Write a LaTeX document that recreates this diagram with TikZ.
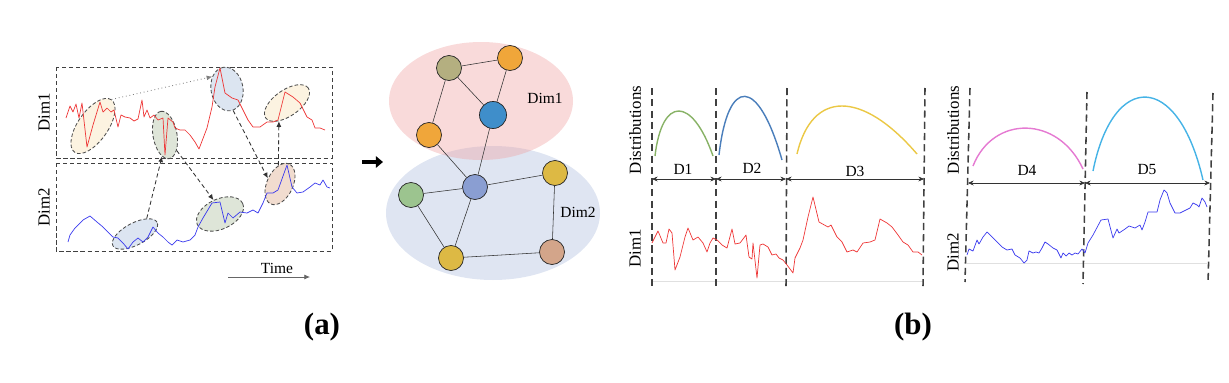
\documentclass[tikz,border=0pt]{standalone}
\usepackage{fontspec}
\setmainfont{Liberation Serif}
\usetikzlibrary{arrows.meta,positioning,shapes.geometric}

\newcommand\pxu{0.025cm}
\definecolor{serred}{HTML}{EE3636}
\definecolor{serblue}{HTML}{3A3AEE}
\definecolor{creamfill}{HTML}{FCF3E1}
\definecolor{sagefill}{HTML}{DEE5D8}
\definecolor{skyfill}{HTML}{DCE5F1}
\definecolor{peachfill}{HTML}{F1DCCF}
\definecolor{dimonefill}{HTML}{EFA3A3}
\definecolor{dimtwofill}{HTML}{DFE5F2}
\definecolor{olivenode}{HTML}{B4AF80}
\definecolor{orangenode}{HTML}{F0A63A}
\definecolor{bluenode}{HTML}{3F8ECA}
\definecolor{lavnode}{HTML}{8A9ED2}
\definecolor{greennode}{HTML}{9CC48F}
\definecolor{yellownode}{HTML}{DDB944}
\definecolor{tannode}{HTML}{D3A58A}
\definecolor{dgreen}{HTML}{88B266}
\definecolor{dblue}{HTML}{4A7EBB}
\definecolor{dyellow}{HTML}{EBC845}
\definecolor{dpink}{HTML}{E57AD2}
\definecolor{dcyan}{HTML}{45B3E6}

\tikzset{
  win/.style={draw=black!75, dash pattern=on 3pt off 2pt, line width=0.6pt},
  blob/.style={ellipse, draw=black!70, dash pattern=on 2.5pt off 1.5pt, line width=0.6pt, inner sep=0pt},
  link/.style={->, dash pattern=on 3pt off 2pt, draw=black!80, line width=0.6pt},
  vert/.style={circle, draw=black!85, line width=0.5pt, minimum size=25*\pxu, inner sep=0pt},
  cut/.style={draw=black!75, dash pattern=on 5pt off 3pt, line width=1.1pt},
  span/.style={{Stealth[length=4pt,width=3.5pt]}-{Stealth[length=4pt,width=3.5pt]}, draw=black!80, line width=0.5pt},
  lab/.style={font=\fontsize{11}{13}\selectfont, inner sep=0pt},
}

\begin{document}
\begin{tikzpicture}[x=\pxu, y=-\pxu, >={Latex[length=4pt,width=3.5pt]}]
\useasboundingbox (0,0) rectangle (1229,382);

% ---------- (a) sliding windows over two dimensions
\draw[win] (56,67) rectangle (332,158);
\draw[win] (56,163) rectangle (332,251);
\node[lab, rotate=90, font=\fontsize{12}{14}\selectfont] (ldimone) at (44,112) {Dim1};
\node[lab, rotate=90, font=\fontsize{12}{14}\selectfont] (ldimtwo) at (44,207) {Dim2};

% highlighted segments
\node[blob, fill=creamfill, minimum width=64*\pxu, minimum height=30*\pxu, rotate=55] (e1) at (93,126) {};
\node[blob, fill=sagefill, minimum width=48*\pxu, minimum height=24*\pxu, rotate=100] (e2) at (165,135) {};
\node[blob, fill=skyfill, minimum width=44*\pxu, minimum height=32*\pxu, rotate=100] (e3) at (227,89) {};
\node[blob, fill=creamfill, minimum width=52*\pxu, minimum height=26*\pxu, rotate=35] (e4) at (287,103) {};
\node[blob, fill=skyfill, minimum width=50*\pxu, minimum height=22*\pxu, rotate=28] (e5) at (135,234) {};
\node[blob, fill=sagefill, minimum width=50*\pxu, minimum height=30*\pxu, rotate=25] (e6) at (220,214) {};
\node[blob, fill=peachfill, minimum width=44*\pxu, minimum height=26*\pxu, rotate=65] (e7) at (280,184) {};

% the two series
\draw[serred, line width=0.5pt, line join=round] plot coordinates {(66,118) (70,106) (73,112) (76,104) (79,118) (82,103) (87,147) (93,125) (100,102) (103,112) (107,108) (111,112) (114,110) (118,127) (121,115) (125,117) (130,118) (134,121) (138,119) (142,100) (144,117) (147,110) (150,118) (154,115) (158,120) (163,118) (165,155) (168,118) (173,122) (175,128) (180,130) (185,130) (190,135) (195,142) (199,149) (207,128) (212,107) (215,87) (220,68) (225,93) (232,98) (238,100) (242,108) (248,120) (253,127) (260,127) (267,122) (273,122) (278,120) (285,92) (293,97) (300,103) (307,117) (312,120) (315,128) (320,128) (325,130)};
\draw[serblue, line width=0.5pt, line join=round] plot coordinates {(68,242) (70,235) (75,228) (78,225) (83,220) (90,216) (97,222) (103,227) (108,232) (113,237) (118,238) (123,243) (128,249) (133,242) (138,238) (143,242) (148,237) (153,227) (158,233) (163,237) (168,242) (172,245) (177,240) (183,242) (190,240) (195,235) (198,227) (203,218) (212,203) (220,202) (225,223) (228,213) (233,218) (240,212) (247,213) (253,210) (258,213) (263,203) (267,193) (273,193) (278,190) (287,165) (292,187) (297,193) (303,192) (310,187) (315,183) (320,185) (323,180) (327,187) (330,188)};

% dependencies between segments
\draw[->, gray, dotted, line width=0.6pt] (e1.east) -- (e3.40);
\draw[link] (e5.25) -- (e2.162);
\draw[link] (e2.207) -- (e6.90);
\draw[link] (e3.186) -- (e7.90);
\draw[link] (e7.30) -- (e4.211);

% time axis
\coordinate (tstart) at (228,277);
\coordinate (tend) at (310,277);
\draw[->, black!60, line width=0.5pt] (tstart) -- (tend);
\node[font=\fontsize{11}{13}\selectfont, inner sep=0pt] (time) at (277,268) {Time};

% ---------- graph of segments
\coordinate (garrs) at (362,162);
\coordinate (garre) at (383,162);
\draw[line width=3pt, -{Triangle[length=5pt,width=8pt]}] (garrs) -- (garre);

\fill[dimtwofill] (493,213) ellipse (107 and 67);
\fill[dimonefill, fill opacity=0.4] (481,101) ellipse (92 and 59);
\node[lab] (gdimone) at (545,98) {Dim1};
\node[lab] (gdimtwo) at (578,212) {Dim2};

\node[vert, fill=olivenode] (g1) at (449,68) {};
\node[vert, fill=orangenode] (g2) at (510,58) {};
\node[vert, fill=bluenode, minimum size=27*\pxu] (g3) at (493,115) {};
\node[vert, fill=orangenode] (g4) at (429,135) {};
\node[vert, fill=lavnode] (g5) at (475,187) {};
\node[vert, fill=greennode] (g6) at (411,195) {};
\node[vert, fill=yellownode] (g7) at (555,173) {};
\node[vert, fill=yellownode] (g8) at (451,258) {};
\node[vert, fill=tannode] (g9) at (552,252) {};
\foreach \u/\v in {g1/g2, g1/g3, g1/g4, g2/g3, g4/g5, g3/g5, g5/g6, g5/g7, g5/g8, g6/g8, g8/g9, g7/g9}
  \draw[black!80, line width=0.4pt] (\u) -- (\v);

% ---------- (b) distribution segments
\node[lab, rotate=90, font=\fontsize{12}{14}\selectfont] (bdist) at (635,130) {Distributions};
\node[lab, rotate=90, font=\fontsize{12}{14}\selectfont] (bdimone) at (635,248) {Dim1};
\draw[black!12, line width=0.5pt] (652,281) -- (923,281);
\draw[cut] (652,88) -- (652,286);
\draw[cut] (716,88) -- (716,286);
\draw[cut] (787,88) -- (786,286);
\draw[cut] (925,88) -- (923,286);

\draw[dgreen, line width=1pt] (655,156) .. controls (662,96) and (692,96) .. (713,156);
\draw[dblue, line width=1pt] (719,155) .. controls (728,76) and (758,76) .. (782,160);
\draw[dyellow, line width=1pt] (797,154) .. controls (812,90) and (862,90) .. (917,154);

\coordinate (s1) at (652,179);
\coordinate (s2) at (716,179);
\coordinate (s3) at (786,179);
\coordinate (s4) at (924,179);
\draw[span] (s1) -- (s2);
\draw[span] (s2) -- (s3);
\draw[span] (s3) -- (s4);
\node[lab] (done) at (683,169) {D1};
\node[lab] (dtwo) at (752,168) {D2};
\node[lab] (dthree) at (855,171) {D3};

\draw[serred, line width=0.5pt, line join=round] plot coordinates {(652,243) (658,231) (663,243) (666,243) (669,229) (672,233) (675,270) (680,257) (685,237) (688,228) (693,240) (698,237) (703,243) (707,252) (710,243) (713,238) (717,240) (722,245) (727,248) (732,229) (735,244) (740,243) (746,235) (749,257) (752,259) (753,243) (757,278) (760,245) (763,244) (768,247) (772,255) (776,254) (779,258) (783,260) (787,265) (793,273) (795,258) (800,248) (803,240) (808,217) (813,197) (819,222) (828,227) (831,225) (837,237) (842,242) (847,252) (853,250) (857,252) (863,243) (870,242) (875,240) (880,219) (887,223) (892,227) (898,235) (903,242) (908,245) (913,252) (918,252) (922,255)};

\node[lab, rotate=90, font=\fontsize{12}{14}\selectfont] (bdistb) at (953,130) {Distributions};
\node[lab, rotate=90, font=\fontsize{12}{14}\selectfont] (bdimtwo) at (953,252) {Dim2};
\draw[black!12, line width=0.5pt] (967,263) -- (1207,263);
\draw[cut] (970,88) -- (965,282);
\draw[cut] (1087,92) -- (1083,284);
\draw[cut] (1213,93) -- (1208,284);

\draw[dpink, line width=1pt] (973,166) .. controls (993,115) and (1058,115) .. (1083,169);
\draw[dcyan, line width=1pt] (1093,171) .. controls (1113,71) and (1178,71) .. (1203,180);

\coordinate (s5) at (968,183);
\coordinate (s6) at (1085,183);
\coordinate (s7) at (1210,183);
\draw[span] (s5) -- (s6);
\draw[span] (s6) -- (s7);
\node[lab] (dfour) at (1027,170) {D4};
\node[lab] (dfive) at (1147,170) {D5};

\draw[serblue, line width=0.5pt, line join=round] plot coordinates {(967,255) (969,249) (973,251) (977,240) (979,244) (983,237) (987,232) (992,237) (997,242) (1002,247) (1007,250) (1012,249) (1015,255) (1020,258) (1024,263) (1027,260) (1029,251) (1033,253) (1036,252) (1039,253) (1042,248) (1045,242) (1048,244) (1053,248) (1057,250) (1061,258) (1063,253) (1066,256) (1069,253) (1072,255) (1075,253) (1078,254) (1082,249) (1085,253) (1088,243) (1093,235) (1101,220) (1108,219) (1113,238) (1117,229) (1119,233) (1125,229) (1129,226) (1135,228) (1140,225) (1142,230) (1145,222) (1148,212) (1157,212) (1160,200) (1164,190) (1167,193) (1170,203) (1175,213) (1180,213) (1186,210) (1190,208) (1193,203) (1197,205) (1199,207) (1202,198) (1205,202) (1207,207)};

% captions
\node[font=\fontsize{22}{26}\selectfont\bfseries] (capa) at (322,327) {(a)};
\node[font=\fontsize{22}{26}\selectfont\bfseries] (capb) at (913,327) {(b)};
\end{tikzpicture}
\end{document}
